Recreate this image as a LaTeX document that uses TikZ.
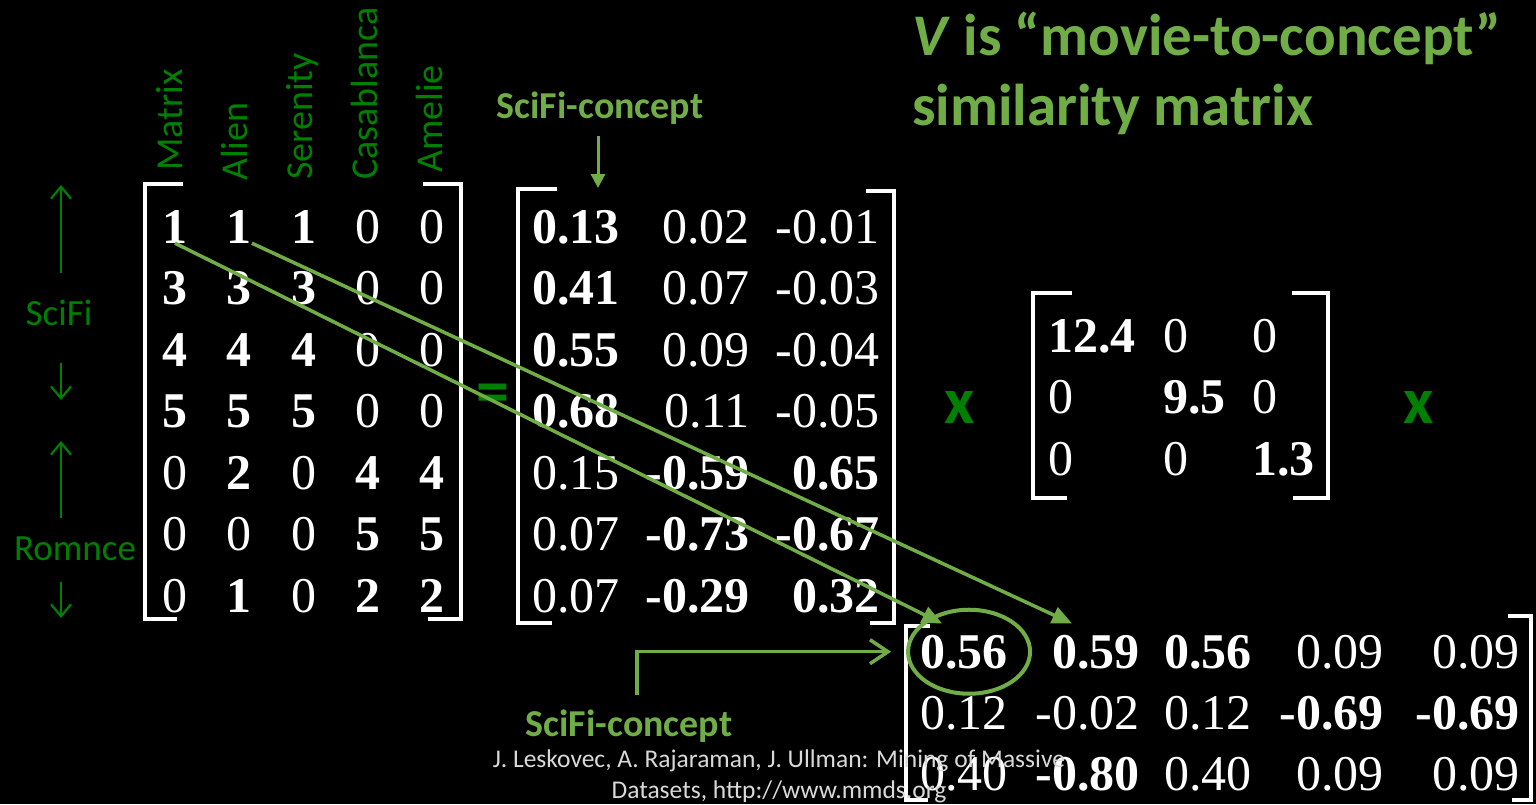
\documentclass[tikz,border=0pt]{standalone}
\usepackage{fontspec}
\setmainfont{Liberation Serif}
\newfontfamily\calibri{Carlito}
\usetikzlibrary{arrows.meta,positioning}
\definecolor{slidegreen}{HTML}{008000}
\definecolor{conceptgreen}{HTML}{70AD47}
\definecolor{citegray}{HTML}{D9D9D9}
\newcommand{\bnum}[1]{\textbf{#1}}

\begin{document}
\begin{tikzpicture}[
  x=1pt, y=-1pt,
  num/.style={text=white, inner sep=0pt, font=\fontsize{50}{60}\selectfont},
  brk/.style={draw=white, line width=4.5pt},
  movie/.style={rotate=90, anchor=base west, inner sep=0pt, text=slidegreen,
    font=\calibri\fontsize{38}{46}\selectfont},
  side/.style={anchor=base, inner sep=0pt, text=slidegreen,
    font=\calibri\fontsize{37}{44}\selectfont},
  updown/.style={-{Straight Barb[length=12pt,width=20pt]},line width=2.2pt,color=slidegreen},
  op/.style={anchor=base, inner sep=0pt, text=slidegreen,
    font=\calibri\bfseries\fontsize{66}{78}\selectfont},
  headline/.style={anchor=base west, inner sep=0pt, text=conceptgreen,
    font=\calibri\bfseries\fontsize{59}{70}\selectfont},
  concept/.style={anchor=base, inner sep=0pt, text=conceptgreen,
    font=\calibri\bfseries\fontsize{38}{46}\selectfont},
  cite/.style={anchor=base, inner sep=0pt, text=citegray,
    font=\calibri\fontsize{25.5}{31}\selectfont},
  link/.style={-{Triangle[length=20pt,width=17pt]},line width=3.5pt,color=conceptgreen}
]
\useasboundingbox (0,0) rectangle (1536,804);
\fill[black] (0,0) rectangle (1536,804);

% title
\node[headline] (title1) at (912,55) {\textit{V} is “movie-to-concept”};
\node[headline] (title2) at (912,125) {similarity matrix};

% user-to-movie ratings
\foreach \row [count=\i] in {
  {\bnum{1},\bnum{1},\bnum{1},0,0},
  {\bnum{3},\bnum{3},\bnum{3},0,0},
  {\bnum{4},\bnum{4},\bnum{4},0,0},
  {\bnum{5},\bnum{5},\bnum{5},0,0},
  {0,\bnum{2},0,\bnum{4},\bnum{4}},
  {0,0,0,\bnum{5},\bnum{5}},
  {0,\bnum{1},0,\bnum{2},\bnum{2}}}
  \foreach \v [count=\j] in \row
    \node[num,anchor=base] (A-\i-\j) at ({175+64.25*(\j-1)},{243+61.5*(\i-1)}) {\v};
\draw[brk] (183,184) -- (145,184) -- (145,619) -- (177,619);
\draw[brk] (423,184) -- (461,184) -- (461,619) -- (428,619);

\node[movie] (mMatrix) at (182,171) {Matrix};
\node[movie] (mAlien) at (247,181) {Alien};
\node[movie] (mSerenity) at (312,180) {Serenity};
\node[movie] (mCasablanca) at (377,180) {Casablanca};
\node[movie] (mAmelie) at (442,173) {Amelie};

% row groups
\node[side] (sciLbl) at (59,325) {SciFi};
\node[side] (romLbl) at (75,560) {Romnce};
\coordinate (sciUp) at (61,185);
\coordinate (sciDown) at (61,400);
\coordinate (romUp) at (61,441);
\coordinate (romDown) at (61,618);
\draw[updown,shorten <=26pt] (sciLbl.north -| sciUp) -- (sciUp);
\draw[updown,shorten <=38pt] (sciLbl.south -| sciDown) -- (sciDown);
\draw[updown,shorten <=18pt] (romLbl.north -| romUp) -- (romUp);
\draw[updown,shorten <=22pt] (romLbl.south -| romDown) -- (romDown);

\node[op] (eq) at (493,413) {=};

% U
\foreach \row [count=\i] in {
  {\bnum{0.13},0.02,-0.01},
  {\bnum{0.41},0.07,-0.03},
  {\bnum{0.55},0.09,-0.04},
  {\bnum{0.68},0.11,-0.05},
  {0.15,\bnum{-0.59},\bnum{0.65}},
  {0.07,\bnum{-0.73},\bnum{-0.67}},
  {0.07,\bnum{-0.29},\bnum{0.32}}}
  \foreach \v [count=\j] in \row
    \node[num,anchor=base east] (U-\i-\j) at ({620+130*(\j-1)},{243+61.5*(\i-1)}) {\v};
\draw[brk] (557,189) -- (518,189) -- (518,623) -- (552,623);
\draw[brk] (866,191) -- (894,191) -- (894,623) -- (870,623);

\node[concept] (sfTop) at (600,118) {SciFi-concept};
\coordinate (uHit) at (598,188);
\draw[-{Triangle[length=14pt,width=14pt]},line width=3pt,conceptgreen,shorten <=12pt]
  (sfTop.south -| uHit) -- (uHit);

\node[op] (times1) at (960,423) {x};

% Sigma
\foreach \row [count=\i] in {{\bnum{12.4},0,0},{0,\bnum{9.5},0},{0,0,\bnum{1.3}}}
  \foreach \v [count=\j] in \row {
    \pgfmathsetmacro\cx{{1048,1163,1252}[\j-1]}
    \node[num,anchor=base west] (S-\i-\j) at (\cx,{352+61.5*(\i-1)}) {\v};
  }
\draw[brk] (1072,293) -- (1033,293) -- (1033,498) -- (1067,498);
\draw[brk] (1292,293) -- (1328,293) -- (1328,498) -- (1293,498);

\node[op] (times2) at (1419,423) {x};

% V transposed
\foreach \row [count=\i] in {
  {\bnum{0.56},\bnum{0.59},\bnum{0.56},0.09,0.09},
  {0.12,-0.02,0.12,\bnum{-0.69},\bnum{-0.69}},
  {0.40,\bnum{-0.80},0.40,0.09,0.09}}
  \foreach \v [count=\j] in \row {
    \pgfmathsetmacro\cx{{1008,1140,1252,1384,1520}[\j-1]}
    \node[num,anchor=base east] (V-\i-\j) at (\cx,{668+61*(\i-1)}) {\v};
  }
\draw[brk] (930,626) -- (906,626) -- (906,800) -- (928,800);
\draw[brk] (1508,616) -- (1531,616) -- (1531,800) -- (1512,800);

\draw[conceptgreen,line width=4pt] ([xshift=5pt]V-1-1.center) ellipse [x radius=61pt,y radius=42pt];

\node[concept] (sfBot) at (629,736) {SciFi-concept};
\coordinate (vHit) at ([xshift=-29pt]V-1-1.west);
\draw[-{Straight Barb[length=18pt,width=24pt]},line width=3.5pt,conceptgreen,shorten <=14pt]
  ([xshift=8pt]sfBot.north) |- (vHit);

% movie rows mapped onto concepts
\coordinate (tip1) at ([shift={(22pt,11pt)}]V-1-1.north west);
\coordinate (tip2) at ([shift={(20pt,11pt)}]V-1-2.north west);
\draw[link] (A-1-1.south) -- (tip1);
\draw[link] (A-1-2.south east) -- (tip2);

\node[cite] (cite1) at (779,767) {J. Leskovec, A. Rajaraman, J. Ullman: Mining of Massive};
\node[cite] (cite2) at (779,798) {Datasets, http://www.mmds.org};
\end{tikzpicture}
\end{document}
